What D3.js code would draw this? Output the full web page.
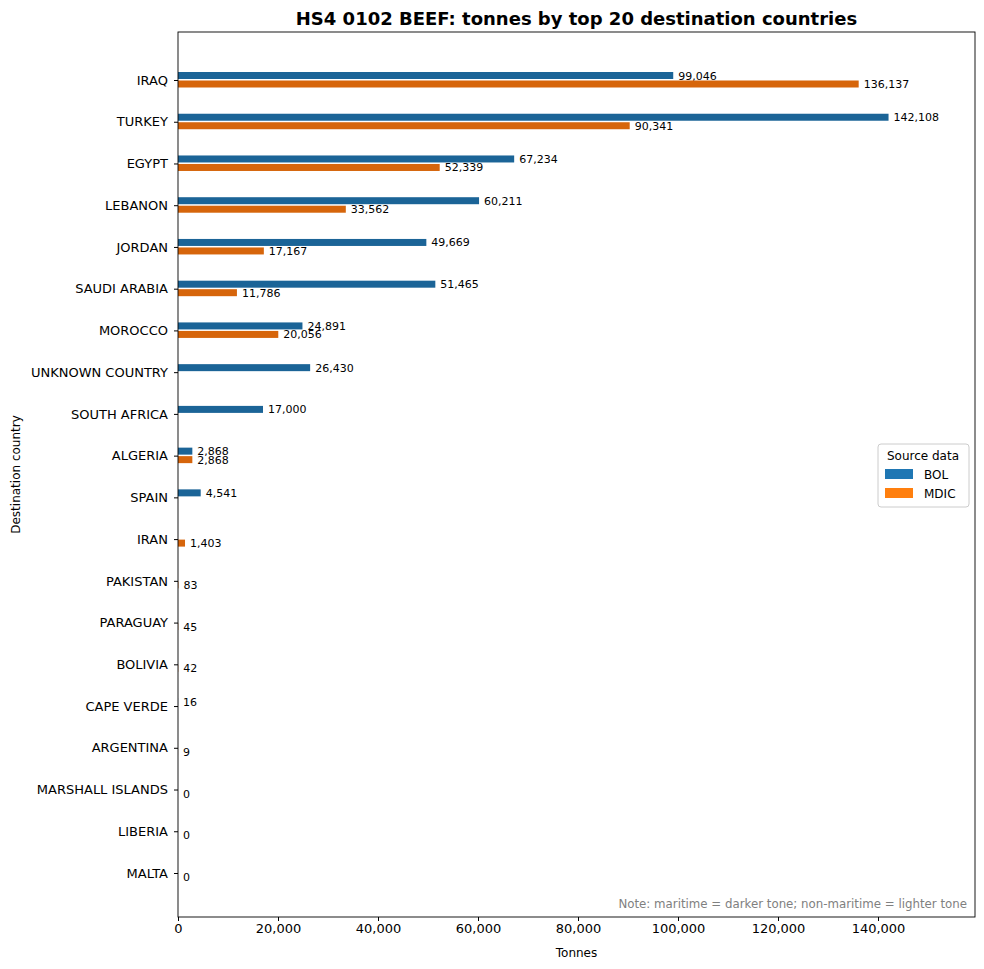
<!DOCTYPE html>
<html><head><meta charset="utf-8">
<script src="https://cdn.jsdelivr.net/npm/d3@7"></script>
<style>body{margin:0;background:#fff;font-family:"DejaVu Sans",sans-serif}</style>
</head><body><div id="chart"></div>
<script>
const countries = ["IRAQ","TURKEY","EGYPT","LEBANON","JORDAN","SAUDI ARABIA","MOROCCO","UNKNOWN COUNTRY","SOUTH AFRICA","ALGERIA","SPAIN","IRAN","PAKISTAN","PARAGUAY","BOLIVIA","CAPE VERDE","ARGENTINA","MARSHALL ISLANDS","LIBERIA","MALTA"];
const bolValues = [99046,142108,67234,60211,49669,51465,24891,26430,17000,2868,4541,null,null,null,null,16,null,null,null,null];
const mdicValues = [136137,90341,52339,33562,17167,11786,20056,null,null,2868,null,1403,83,45,42,null,9,0,0,0];
const xTicks = [0,20000,40000,60000,80000,100000,120000,140000];

const W = 984, H = 969;
const m = {left:178, right:9, top:32, bottom:52};
const svg = d3.select("#chart").append("svg").attr("width", W).attr("height", H);

const x = d3.scaleLinear().domain([0,159400]).range([m.left, W - m.right]);
const y = d3.scalePoint().domain(countries).range([80, 873]);
const fmt = d3.format(",");

// bars
const series = [
	{name:"BOL", vals:bolValues, color:"#1b6497", off:-4.5},
	{name:"MDIC", vals:mdicValues, color:"#d6650b", off:4}
];
series.forEach(s => {
	countries.forEach((c, i) => {
		const v = s.vals[i];
		if (v === null) return;
		svg.append("rect")
			.attr("x", x(0)).attr("y", y(c) + s.off - 3.5)
			.attr("width", x(v) - x(0)).attr("height", 7)
			.attr("fill", s.color);
		svg.append("text")
			.attr("x", x(v) + 5).attr("y", y(c) + s.off + 4)
			.attr("font-size", 11).text(fmt(v));
	});
});

// frame
svg.append("rect").attr("x", m.left).attr("y", m.top)
	.attr("width", W - m.right - m.left).attr("height", H - m.bottom - m.top)
	.attr("fill", "none").attr("stroke", "#000").attr("stroke-width", 0.9);

// axes
const xa = svg.append("g").attr("transform", `translate(0,${H - m.bottom})`)
	.call(d3.axisBottom(x).tickValues(xTicks).tickFormat(fmt).tickSize(4));
xa.select(".domain").remove();
xa.selectAll("text").attr("font-size", 13).attr("font-family", "DejaVu Sans");

const ya = svg.append("g").attr("transform", `translate(${m.left},0)`)
	.call(d3.axisLeft(y).tickSize(4).tickPadding(6));
ya.select(".domain").remove();
ya.selectAll("text").attr("font-size", 13).attr("font-family", "DejaVu Sans");

// titles
svg.append("text").attr("x", (m.left + W - m.right) / 2).attr("y", 25)
	.attr("text-anchor", "middle").attr("font-size", 18).attr("font-weight", "bold")
	.text("HS4 0102 BEEF: tonnes by top 20 destination countries");
svg.append("text").attr("x", (m.left + W - m.right) / 2).attr("y", 957)
	.attr("text-anchor", "middle").attr("font-size", 12).text("Tonnes");
svg.append("text").attr("transform", `translate(20,${(m.top + H - m.bottom) / 2}) rotate(-90)`)
	.attr("text-anchor", "middle").attr("font-size", 12).text("Destination country");
svg.append("text").attr("x", 967).attr("y", 908).attr("text-anchor", "end")
	.attr("font-size", 11.8).attr("fill", "#808080")
	.text("Note: maritime = darker tone; non-maritime = lighter tone");

// legend
const lg = svg.append("g").attr("transform", "translate(878,444)");
lg.append("rect").attr("width", 91).attr("height", 63).attr("rx", 3)
	.attr("fill", "#fff").attr("stroke", "#ccc");
lg.append("text").attr("x", 45).attr("y", 16).attr("text-anchor", "middle")
	.attr("font-size", 12).text("Source data");
[["BOL","#1f77b4"],["MDIC","#ff7f0e"]].forEach((d, i) => {
	lg.append("rect").attr("x", 7).attr("y", 25 + i * 19).attr("width", 28).attr("height", 10).attr("fill", d[1]);
	lg.append("text").attr("x", 46).attr("y", 35 + i * 19).attr("font-size", 12).text(d[0]);
});
</script></body></html>
